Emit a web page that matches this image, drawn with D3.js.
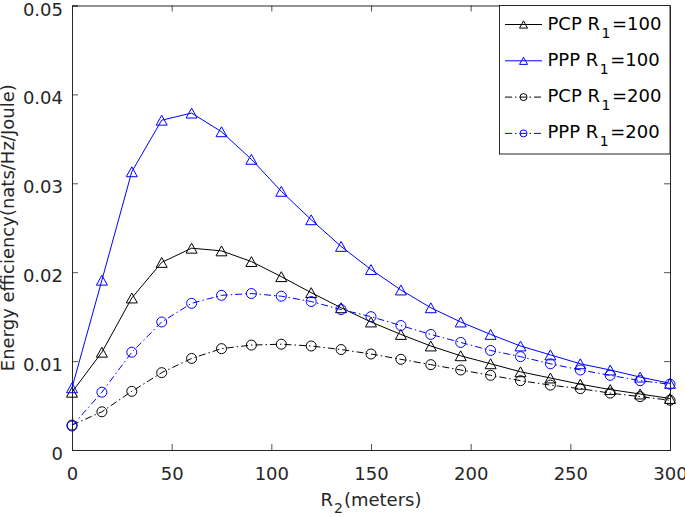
<!DOCTYPE html>
<meta charset="utf-8">
<script src="https://d3js.org/d3.v7.min.js"></script>
<style>
  body { margin: 0; background: #fff; }
  text { font-family: "DejaVu Sans", Arial, Helvetica, sans-serif; }
</style>
<div id="my_dataviz"></div>
<script>

  // R2 values (meters)
  const r2 = [0, 15, 30, 45, 60, 75, 90, 105, 120, 135, 150, 165, 180, 195, 210, 225, 240, 255, 270, 285, 300]

  // series values
  const pcp100 = [0.0065, 0.0110, 0.0171, 0.0211, 0.0227, 0.0224, 0.0212, 0.0195, 0.0177, 0.0160, 0.0144,
                  0.0130, 0.0117, 0.0106, 0.0097, 0.0088, 0.0081, 0.0074, 0.0068, 0.0063, 0.0058]
  const ppp100 = [0.0070, 0.0191, 0.0313, 0.0371, 0.0379, 0.0358, 0.0327, 0.0291, 0.0259, 0.0229, 0.0203,
                  0.0180, 0.0160, 0.0144, 0.0130, 0.0117, 0.0107, 0.0097, 0.0090, 0.0082, 0.0075]
  const pcp200 = [0.0028, 0.0043, 0.0066, 0.0087, 0.0103, 0.0114, 0.0118, 0.0119, 0.0117, 0.0113, 0.0108,
                  0.0102, 0.0096, 0.0090, 0.0084, 0.0078, 0.0073, 0.0069, 0.0064, 0.0060, 0.0056]
  const ppp200 = [0.0027, 0.0065, 0.0110, 0.0144, 0.0165, 0.0174, 0.0176, 0.0173, 0.0167, 0.0158, 0.0150,
                  0.0140, 0.0130, 0.0121, 0.0112, 0.0105, 0.0097, 0.0090, 0.0084, 0.0078, 0.0074]

  const xTicks = [0, 50, 100, 150, 200, 250, 300]
  const yTicks = [0, 0.01, 0.02, 0.03, 0.04, 0.05]

  const seriesNames = ["PCP", "PPP", "PCP", "PPP"]
  const seriesR1 = ["100", "100", "200", "200"]

  const series = [
    {name: seriesNames[0], r1: seriesR1[0], values: pcp100, color: "#000000", dash: null, marker: "tri"},
    {name: seriesNames[1], r1: seriesR1[1], values: ppp100, color: "#0000ff", dash: null, marker: "tri"},
    {name: seriesNames[2], r1: seriesR1[2], values: pcp200, color: "#000000", dash: "7,3,1.5,3", marker: "circ"},
    {name: seriesNames[3], r1: seriesR1[3], values: ppp200, color: "#0000ff", dash: "7,3,1.5,3", marker: "circ"}
  ]

  // set the dimensions and margins of the graph
  const margin = {top: 5.5, right: 15, bottom: 67, left: 72},
      width = 685 - margin.left - margin.right,
      height = 517 - margin.top - margin.bottom;

  const svg = d3.select("#my_dataviz")
    .append("svg")
      .attr("width", width + margin.left + margin.right)
      .attr("height", height + margin.top + margin.bottom)
    .append("g")
      .attr("transform", `translate(${margin.left},${margin.top})`);

  const x = d3.scaleLinear().domain([0, 300]).range([0, width])
  const y = d3.scaleLinear().domain([0, 0.05]).range([height, 0])

  const axisColor = "#262626"
  const tickLen = 6
  const fontFam = "'DejaVu Sans', Arial, sans-serif"

  // bottom axis
  const xAxis = svg.append("g")
    .attr("transform", `translate(0, ${height})`)
    .call(d3.axisBottom(x).tickValues(xTicks).tickSize(-tickLen).tickPadding(17).tickFormat(d3.format("d")))
  // left axis
  const yAxis = svg.append("g")
    .call(d3.axisLeft(y).tickValues(yTicks).tickSize(-tickLen).tickPadding(9)
      .tickFormat(d => d === 0 ? "0" : d3.format(".2f")(d)))
  yAxis.selectAll(".tick text").attr("dy", "0.53em")
  // top and right (box)
  const xTop = svg.append("g")
    .call(d3.axisTop(x).tickValues(xTicks).tickSize(-tickLen).tickFormat(""))
  const yRight = svg.append("g")
    .attr("transform", `translate(${width},0)`)
    .call(d3.axisRight(y).tickValues(yTicks).tickSize(-tickLen).tickFormat(""))

  for (const a of [xAxis, yAxis, xTop, yRight]) {
    a.select(".domain").attr("stroke", axisColor).attr("stroke-width", 1)
    a.selectAll(".tick line").attr("stroke", axisColor).attr("stroke-width", 0.8)
    a.selectAll(".tick text").attr("fill", axisColor).style("font-size", "18px")
      .style("font-family", fontFam)
  }

  // axis titles
  const xt = svg.append("text")
    .attr("x", width / 2)
    .attr("y", height + 56)
    .attr("text-anchor", "middle")
    .attr("fill", axisColor)
    .style("font-size", "18px")
  xt.append("tspan").text("R")
  xt.append("tspan").text("2").style("font-size", "14px").attr("dy", 7).attr("dx", 1)
  xt.append("tspan").text("(meters)").attr("dy", -7).attr("dx", 1)

  svg.append("text")
    .attr("transform", `translate(${-58}, ${height / 2}) rotate(-90)`)
    .attr("text-anchor", "middle")
    .attr("fill", axisColor)
    .style("font-size", "18px")
    .text("Energy efficiency(nats/Hz/Joule)")

  // marker drawing helper
  function drawMarker(g, kind, cx, cy, size, color) {
    if (kind === "tri") {
      const w = size, h = size * 0.9
      g.append("path")
        .attr("d", `M${cx},${cy - h / 2}L${cx + w / 2},${cy + h / 2}L${cx - w / 2},${cy + h / 2}Z`)
        .attr("fill", "none").attr("stroke", color).attr("stroke-width", 1)
    } else {
      g.append("circle")
        .attr("cx", cx).attr("cy", cy).attr("r", size / 2)
        .attr("fill", "none").attr("stroke", color).attr("stroke-width", 1)
    }
  }

  const line = d3.line()
    .x((d, i) => x(r2[i]))
    .y(d => y(d))

  // lines and markers
  series.forEach(s => {
    svg.append("path")
      .datum(s.values)
      .attr("d", line)
      .attr("fill", "none")
      .attr("stroke", s.color)
      .attr("stroke-width", 1)
      .attr("stroke-dasharray", s.dash)
    const mg = svg.append("g")
    s.values.forEach((v, i) => drawMarker(mg, s.marker, x(r2[i]), y(v), s.marker === "tri" ? 11 : 10, s.color))
  })

  // legend
  const lx = x(0) + 427.5, lw = width - 427.5, lh = 148.5
  const legend = svg.append("g").attr("transform", `translate(${lx},0)`)
  legend.append("rect")
    .attr("width", lw).attr("height", lh)
    .attr("fill", "#fff").attr("stroke", axisColor).attr("stroke-width", 1)

  series.forEach((s, i) => {
    const ly = 19 + i * 36.3
    legend.append("line")
      .attr("x1", 5.5).attr("x2", 42.5).attr("y1", ly).attr("y2", ly)
      .attr("stroke", s.color).attr("stroke-width", 1)
      .attr("stroke-dasharray", s.dash)
    drawMarker(legend, s.marker, 24, ly, s.marker === "tri" ? 8 : 7, s.color)
    const t = legend.append("text")
      .attr("x", 48).attr("y", ly + 5)
      .attr("fill", "#000")
      .style("font-size", "18px")
    t.append("tspan").text(s.name + " R")
    t.append("tspan").text("1").style("font-size", "14px").attr("dy", 8).attr("dx", 1.5)
    t.append("tspan").text("=" + s.r1).attr("dy", -8).attr("dx", 1.5)
  })

</script>
